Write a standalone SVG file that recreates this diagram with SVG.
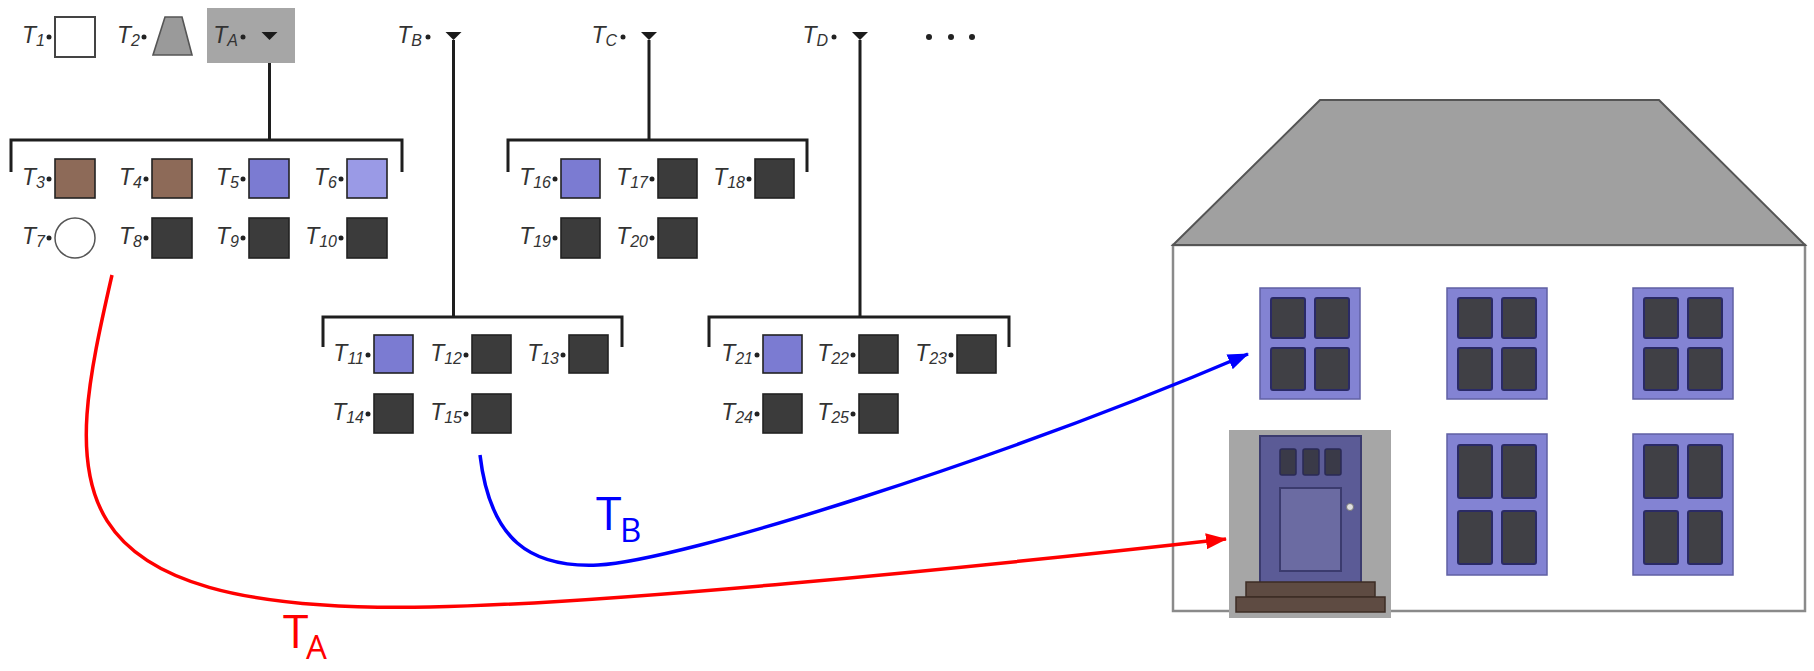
<svg xmlns="http://www.w3.org/2000/svg" width="1814" height="671" viewBox="0 0 1814 671">
  <style>
    .lbl { font-family: "Liberation Sans", Arial, sans-serif; font-style: italic; font-size: 23px; fill: #333; text-anchor: end; }
    .sub { font-size: 16px; }
    .dot { fill: #222; }
    .sq { stroke: #222; stroke-width: 1.6; }
    .dark { fill: #3b3b3b; }
    .brown { fill: #8d6a58; }
    .blue { fill: #7b7bd2; }
    .lblue { fill: #9a9ae6; }
    .tri { fill: #1a1a1a; }
    .wire { fill: none; stroke: #1e1e1e; stroke-width: 3; }
    .frame { fill: #8383d3; stroke: #6060a4; stroke-width: 1.5; }
    .pane { fill: #404045; stroke: #2a2a66; stroke-width: 2; }
    .big { font-family: "Open Sans", "Noto Sans", sans-serif; font-size: 46px; }
    .bigsub { font-size: 33px; }
  </style>
  <defs>
    <marker id="headRed" markerUnits="userSpaceOnUse" markerWidth="22" markerHeight="16" refX="20" refY="8" orient="auto">
      <path d="M0,0 L21,8 L0,16 z" fill="#ff0000"/>
    </marker>
    <marker id="headBlue" markerUnits="userSpaceOnUse" markerWidth="22" markerHeight="16" refX="20" refY="8" orient="auto">
      <path d="M0,0 L21,8 L0,16 z" fill="#0000ff"/>
    </marker>
    <g id="winTop">
      <rect class="frame" x="0" y="0" width="100" height="111"/>
      <rect class="pane" x="11" y="10" width="34" height="40" rx="2"/>
      <rect class="pane" x="55" y="10" width="34" height="40" rx="2"/>
      <rect class="pane" x="11" y="60" width="34" height="42" rx="2"/>
      <rect class="pane" x="55" y="60" width="34" height="42" rx="2"/>
    </g>
    <g id="winLow">
      <rect class="frame" x="0" y="0" width="100" height="141"/>
      <rect class="pane" x="11" y="11" width="34" height="53" rx="2"/>
      <rect class="pane" x="55" y="11" width="34" height="53" rx="2"/>
      <rect class="pane" x="11" y="77" width="34" height="53" rx="2"/>
      <rect class="pane" x="55" y="77" width="34" height="53" rx="2"/>
    </g>
  </defs>

  <rect width="1814" height="671" fill="#ffffff"/>

  <!-- house -->
  <g id="house">
    <rect x="1173" y="245" width="632" height="366" fill="#ffffff" stroke="#8a8a8a" stroke-width="2.5"/>
    <polygon points="1173,245 1320,100 1659,100 1805,245" fill="#a0a0a0" stroke="#555" stroke-width="2"/>
    <use href="#winTop" x="1260" y="288"/>
    <use href="#winTop" x="1447" y="288"/>
    <use href="#winTop" x="1633" y="288"/>
    <use href="#winLow" x="1447" y="434"/>
    <use href="#winLow" x="1633" y="434"/>
    <g id="door">
      <rect x="1229" y="430" width="162" height="188" fill="#a6a6a6"/>
      <rect x="1260" y="436" width="101" height="147" fill="#5b5b96" stroke="#3b3b6e" stroke-width="2"/>
      <rect x="1280" y="449" width="16" height="26" rx="2" fill="#3a3a48" stroke="#2a2a55" stroke-width="1.5"/>
      <rect x="1303" y="449" width="16" height="26" rx="2" fill="#3a3a48" stroke="#2a2a55" stroke-width="1.5"/>
      <rect x="1325" y="449" width="16" height="26" rx="2" fill="#3a3a48" stroke="#2a2a55" stroke-width="1.5"/>
      <rect x="1280" y="488" width="61" height="83" fill="#6b6ba2" stroke="#3b3b6e" stroke-width="2"/>
      <circle cx="1350" cy="507" r="3.5" fill="#e0e0e0" stroke="#777" stroke-width="1"/>
      <rect x="1246" y="582" width="129" height="15" fill="#5e4b42" stroke="#3d2c25" stroke-width="1.5"/>
      <rect x="1236" y="597" width="149" height="15" fill="#5e4b42" stroke="#3d2c25" stroke-width="1.5"/>
    </g>
  </g>

  <!-- tree wiring and the two tagged curves -->
  <g id="connectors">
    <path class="wire" d="M269.5,40 V140 M11,172 V140 H402 V172"/>
    <path class="wire" d="M453.5,40 V317 M323,347 V317 H622 V347"/>
    <path class="wire" d="M649,40 V140 M508,172 V140 H807 V172"/>
    <path class="wire" d="M860,40 V317 M709,347 V317 H1009 V347"/>
    <path id="curveA" d="M112,275 C65,480 40,615 430,607 C600,604 950,570 1226,539" fill="none" stroke="#ff0000" stroke-width="3.5" marker-end="url(#headRed)"/>
    <path id="curveB" d="M480,455 C490,540 530,568 598,565 C680,561 1000,460 1248,354" fill="none" stroke="#0000ff" stroke-width="3.5" marker-end="url(#headBlue)"/>
  </g>

  <!-- top row -->
  <g id="n-T1">
    <text class="lbl" x="45" y="43">T<tspan class="sub" dy="3">1</tspan></text>
    <circle class="dot" cx="49" cy="37" r="2.5"/>
    <rect x="55" y="17" width="40" height="40" fill="#fff" stroke="#444" stroke-width="2"/>
  </g>
  <g id="n-T2">
    <text class="lbl" x="140" y="43">T<tspan class="sub" dy="3">2</tspan></text>
    <circle class="dot" cx="144" cy="37" r="2.5"/>
    <polygon points="153,55 192,55 182,17 165,17" fill="#9a9a9a" stroke="#555" stroke-width="1.6"/>
  </g>
  <g id="n-TA">
    <rect x="207" y="8" width="88" height="55" fill="#a6a6a6"/>
    <text class="lbl" x="238" y="43">T<tspan class="sub" dy="3">A</tspan></text>
    <circle class="dot" cx="243" cy="37" r="2.5"/>
    <polygon class="tri" points="261.5,32 277.5,32 269.5,40"/>
  </g>
  <g id="n-TB">
    <text class="lbl" x="422" y="43">T<tspan class="sub" dy="3">B</tspan></text>
    <circle class="dot" cx="428" cy="37" r="2.5"/>
    <polygon class="tri" points="445.5,32 461.5,32 453.5,40"/>
  </g>
  <g id="n-TC">
    <text class="lbl" x="617" y="43">T<tspan class="sub" dy="3">C</tspan></text>
    <circle class="dot" cx="623" cy="37" r="2.5"/>
    <polygon class="tri" points="641,32 657,32 649,40"/>
  </g>
  <g id="n-TD">
    <text class="lbl" x="828" y="43">T<tspan class="sub" dy="3">D</tspan></text>
    <circle class="dot" cx="834" cy="37" r="2.5"/>
    <polygon class="tri" points="852,32 868,32 860,40"/>
  </g>
  <g id="n-more">
    <circle class="dot" cx="929" cy="37" r="3"/>
    <circle class="dot" cx="951" cy="37" r="3"/>
    <circle class="dot" cx="972" cy="37" r="3"/>
  </g>

  <!-- children of TA -->
  <g id="n-T3"><text class="lbl" x="45" y="185">T<tspan class="sub" dy="3">3</tspan></text><circle class="dot" cx="49" cy="179" r="2.5"/><rect class="sq brown" x="55" y="159" width="40" height="39"/></g>
  <g id="n-T4"><text class="lbl" x="142" y="185">T<tspan class="sub" dy="3">4</tspan></text><circle class="dot" cx="146" cy="179" r="2.5"/><rect class="sq brown" x="152" y="159" width="40" height="39"/></g>
  <g id="n-T5"><text class="lbl" x="239" y="185">T<tspan class="sub" dy="3">5</tspan></text><circle class="dot" cx="243" cy="179" r="2.5"/><rect class="sq blue" x="249" y="159" width="40" height="39"/></g>
  <g id="n-T6"><text class="lbl" x="337" y="185">T<tspan class="sub" dy="3">6</tspan></text><circle class="dot" cx="341" cy="179" r="2.5"/><rect class="sq lblue" x="347" y="159" width="40" height="39"/></g>
  <g id="n-T7"><text class="lbl" x="45" y="244">T<tspan class="sub" dy="3">7</tspan></text><circle class="dot" cx="49" cy="238" r="2.5"/><circle cx="75" cy="238" r="20" fill="#fff" stroke="#555" stroke-width="1.5"/></g>
  <g id="n-T8"><text class="lbl" x="142" y="244">T<tspan class="sub" dy="3">8</tspan></text><circle class="dot" cx="146" cy="238" r="2.5"/><rect class="sq dark" x="152" y="218" width="40" height="40"/></g>
  <g id="n-T9"><text class="lbl" x="239" y="244">T<tspan class="sub" dy="3">9</tspan></text><circle class="dot" cx="243" cy="238" r="2.5"/><rect class="sq dark" x="249" y="218" width="40" height="40"/></g>
  <g id="n-T10"><text class="lbl" x="337" y="244">T<tspan class="sub" dy="3">10</tspan></text><circle class="dot" cx="341" cy="238" r="2.5"/><rect class="sq dark" x="347" y="218" width="40" height="40"/></g>

  <!-- children of TB -->
  <g id="n-T11"><text class="lbl" x="364" y="361">T<tspan class="sub" dy="3">11</tspan></text><circle class="dot" cx="368" cy="355" r="2.5"/><rect class="sq blue" x="374" y="335" width="39" height="38"/></g>
  <g id="n-T12"><text class="lbl" x="462" y="361">T<tspan class="sub" dy="3">12</tspan></text><circle class="dot" cx="466" cy="355" r="2.5"/><rect class="sq dark" x="472" y="335" width="39" height="38"/></g>
  <g id="n-T13"><text class="lbl" x="559" y="361">T<tspan class="sub" dy="3">13</tspan></text><circle class="dot" cx="563" cy="355" r="2.5"/><rect class="sq dark" x="569" y="335" width="39" height="38"/></g>
  <g id="n-T14"><text class="lbl" x="364" y="420">T<tspan class="sub" dy="3">14</tspan></text><circle class="dot" cx="368" cy="414" r="2.5"/><rect class="sq dark" x="374" y="394" width="39" height="39"/></g>
  <g id="n-T15"><text class="lbl" x="462" y="420">T<tspan class="sub" dy="3">15</tspan></text><circle class="dot" cx="466" cy="414" r="2.5"/><rect class="sq dark" x="472" y="394" width="39" height="39"/></g>

  <!-- children of TC -->
  <g id="n-T16"><text class="lbl" x="551" y="185">T<tspan class="sub" dy="3">16</tspan></text><circle class="dot" cx="555" cy="179" r="2.5"/><rect class="sq blue" x="561" y="159" width="39" height="39"/></g>
  <g id="n-T17"><text class="lbl" x="648" y="185">T<tspan class="sub" dy="3">17</tspan></text><circle class="dot" cx="652" cy="179" r="2.5"/><rect class="sq dark" x="658" y="159" width="39" height="39"/></g>
  <g id="n-T18"><text class="lbl" x="745" y="185">T<tspan class="sub" dy="3">18</tspan></text><circle class="dot" cx="749" cy="179" r="2.5"/><rect class="sq dark" x="755" y="159" width="39" height="39"/></g>
  <g id="n-T19"><text class="lbl" x="551" y="244">T<tspan class="sub" dy="3">19</tspan></text><circle class="dot" cx="555" cy="238" r="2.5"/><rect class="sq dark" x="561" y="218" width="39" height="40"/></g>
  <g id="n-T20"><text class="lbl" x="648" y="244">T<tspan class="sub" dy="3">20</tspan></text><circle class="dot" cx="652" cy="238" r="2.5"/><rect class="sq dark" x="658" y="218" width="39" height="40"/></g>

  <!-- children of TD -->
  <g id="n-T21"><text class="lbl" x="753" y="361">T<tspan class="sub" dy="3">21</tspan></text><circle class="dot" cx="757" cy="355" r="2.5"/><rect class="sq blue" x="763" y="335" width="39" height="38"/></g>
  <g id="n-T22"><text class="lbl" x="849" y="361">T<tspan class="sub" dy="3">22</tspan></text><circle class="dot" cx="853" cy="355" r="2.5"/><rect class="sq dark" x="859" y="335" width="39" height="38"/></g>
  <g id="n-T23"><text class="lbl" x="947" y="361">T<tspan class="sub" dy="3">23</tspan></text><circle class="dot" cx="951" cy="355" r="2.5"/><rect class="sq dark" x="957" y="335" width="39" height="38"/></g>
  <g id="n-T24"><text class="lbl" x="753" y="420">T<tspan class="sub" dy="3">24</tspan></text><circle class="dot" cx="757" cy="414" r="2.5"/><rect class="sq dark" x="763" y="394" width="39" height="39"/></g>
  <g id="n-T25"><text class="lbl" x="849" y="420">T<tspan class="sub" dy="3">25</tspan></text><circle class="dot" cx="853" cy="414" r="2.5"/><rect class="sq dark" x="859" y="394" width="39" height="39"/></g>

  <!-- curve tags -->
  <g id="tagA" fill="#ff0000">
    <text class="big" x="283" y="648">T<tspan class="bigsub" x="306" y="659">A</tspan></text>
  </g>
  <g id="tagB" fill="#0000ff">
    <text class="big" x="596" y="530">T<tspan class="bigsub" x="620" y="542">B</tspan></text>
  </g>
</svg>
